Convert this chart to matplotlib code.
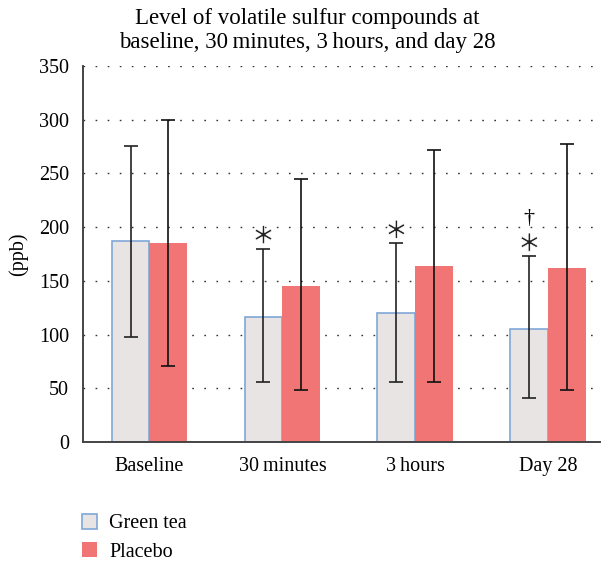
import matplotlib.pyplot as plt
import matplotlib.patheffects as pe
import numpy as np
from matplotlib.patches import Patch

plt.rcParams["font.family"] = ["Liberation Serif", "DejaVu Serif"]

groups = ["Baseline", "30\u2009minutes", "3\u2009hours", "Day 28"]
green_tea = [187, 116, 120, 105]
green_lo = [98, 56, 56, 41]
green_hi = [276, 180, 185, 173]
placebo = [185, 145, 164, 162]
placebo_lo = [71, 48, 56, 48]
placebo_hi = [300, 245, 272, 277]
marks = ["", "*", "*", "\u2020*"]

x = np.arange(len(groups))
w = 0.285

fig = plt.figure(figsize=(6.08, 5.62), dpi=100)
ax = fig.add_axes([0.1365, 0.2135, 0.8505, 0.669])

gt = np.array(green_tea)
pl = np.array(placebo)
ax.bar(x - w / 2, gt, width=w, color="#E8E4E4", edgecolor="#7FA7D8",
       linewidth=1.2, zorder=2)
ax.bar(x + w / 2, pl, width=w, color="#F17575", edgecolor="none", zorder=2)
ax.errorbar(x - w / 2, gt,
            yerr=[gt - np.array(green_lo), np.array(green_hi) - gt],
            fmt="none", ecolor="#222222", elinewidth=1.2, capsize=5,
            capthick=1.2, zorder=3)
ax.errorbar(x + w / 2, pl,
            yerr=[pl - np.array(placebo_lo), np.array(placebo_hi) - pl],
            fmt="none", ecolor="#111111", elinewidth=1.2, capsize=5,
            capthick=1.2, zorder=3)

# thin the heavy asterisk glyph a bit
thin = [pe.Stroke(linewidth=0.6, foreground="white")]
for i, m in enumerate(marks):
    if not m:
        continue
    ax.text(x[i] - w / 2, green_hi[i] + 12, "\u2217", ha="center",
            va="center", fontsize=21, family="DejaVu Sans",
            color="#222222", path_effects=thin)
    if "\u2020" in m:
        ax.text(x[i] - w / 2, green_hi[i] + 35, "\u2020", ha="center",
                va="center", fontsize=16)

ax.set_ylim(0, 350)
ax.set_xlim(-0.5, 3.39)
ax.set_yticks(range(0, 351, 50))
ax.set_xticks(x)
ax.set_xticklabels(groups)
ax.tick_params(axis="y", length=0, labelsize=14.5, pad=10)
ax.tick_params(axis="x", length=0, labelsize=14.5, pad=11)
ax.yaxis.grid(True, color="#333333", linewidth=1.0,
              linestyle=(0, (1.2, 7.5)), zorder=0)
for s in ["top", "right"]:
    ax.spines[s].set_visible(False)
ax.spines["left"].set_color("#444444")
ax.spines["bottom"].set_color("#444444")
ax.spines["left"].set_linewidth(1.4)
ax.spines["bottom"].set_linewidth(1.4)
ax.set_ylabel("(ppb)", fontsize=14.5, labelpad=8)
fig.text(0.505, 0.985,
         "Level of volatile sulfur compounds at\nbaseline, 30\u2009minutes, 3\u2009hours, and day 28",
         ha="center", va="top", fontsize=16.5, linespacing=1.15)

handles = [Patch(facecolor="#E8E4E4", edgecolor="#7FA7D8", linewidth=1.2),
           Patch(facecolor="#F17575", edgecolor="none")]
fig.legend(handles, ["Green tea", "Placebo"], loc="upper left",
           bbox_to_anchor=(0.122, 0.1), frameon=False, fontsize=14.5,
           handlelength=0.75, handleheight=0.75, handletextpad=0.6,
           labelspacing=0.45, borderaxespad=0)

fig.savefig("out.png", dpi=100)
